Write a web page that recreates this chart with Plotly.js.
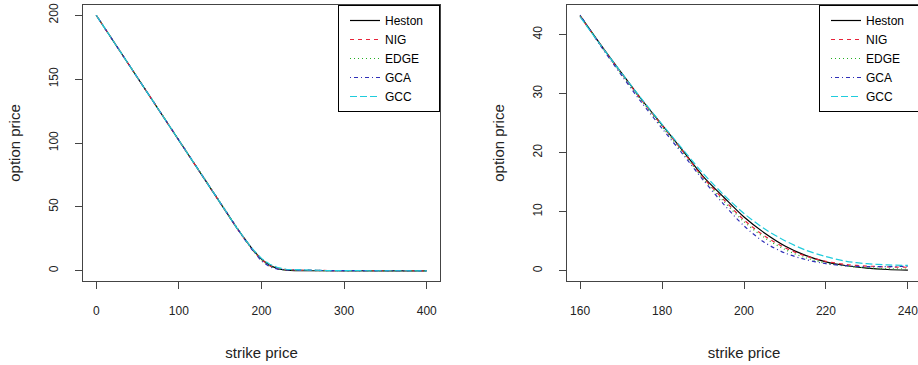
<!DOCTYPE html>
<html>
<head>
<meta charset="utf-8">
<script src="https://cdn.plot.ly/plotly-3.0.1.min.js"></script>
<style>
html,body{margin:0;padding:0;overflow:hidden;background:#fff;}
#chart{width:925px;height:365px;}
</style>
</head>
<body>
<div id="chart"></div>
<script>
// ---- data ----
const seriesNames = ["Heston", "NIG", "EDGE", "GCA", "GCC"];

// left panel: full strike range
const leftStrikes = [0,20,40,60,80,100,120,140,150,160,170,180,190,200,210,220,230,240,260,280,300,320,340,360,380,400];
const leftHeston = [200,180.38,160.76,141.14,121.52,101.9,82.3,62.78,53.0,43.2,33.6,24.7,16.0,9.1,4.2,1.5,0.45,0.12,0.02,0,0,0,0,0,0,0];
const leftNIG    = [200,180.38,160.76,141.14,121.52,101.9,82.3,62.78,53.0,43.1,33.5,24.6,15.8,8.6,3.9,1.6,0.8,0.6,0.3,0.15,0.05,0.02,0,0,0,0];
const leftEDGE   = [200,180.38,160.76,141.14,121.52,101.9,82.3,62.78,53.0,43.2,33.4,24.4,15.6,8.3,3.6,1.3,0.5,0.3,0.1,0.02,0,0,0,0,0,0];
const leftGCA    = [200,180.38,160.76,141.14,121.52,101.9,82.3,62.78,53.0,43.3,33.2,24.1,15.4,7.6,3.0,1.2,0.7,0.75,0.4,0.15,0.05,0.02,0,0,0,0];
const leftGCC    = [200,180.38,160.76,141.14,121.52,101.9,82.3,62.78,53.0,43.0,33.6,24.8,16.5,9.7,5.1,2.4,1.2,0.9,0.4,0.15,0.05,0.02,0,0,0,0];

// right panel: zoom on strikes 160..240
const rightStrikes = [160,165,170,175,180,185,190,195,200,205,210,215,220,225,230,235,240];
const rightHeston = [43.2,38.3,33.6,29.0,24.7,20.4,16.0,12.5,9.1,6.4,4.2,2.6,1.5,0.85,0.45,0.22,0.12];
const rightNIG    = [43.1,38.2,33.5,28.9,24.6,20.3,15.8,12.1,8.6,5.9,3.9,2.5,1.6,1.05,0.8,0.65,0.6];
const rightEDGE   = [43.2,38.2,33.4,28.8,24.4,20.1,15.6,11.8,8.3,5.6,3.6,2.2,1.3,0.8,0.5,0.35,0.3];
const rightGCA    = [43.3,38.1,33.2,28.5,24.1,19.8,15.4,11.3,7.6,4.8,3.0,1.9,1.2,0.85,0.7,0.7,0.75];
const rightGCC    = [43.0,38.2,33.6,29.1,24.8,20.6,16.5,12.9,9.7,7.1,5.1,3.5,2.4,1.6,1.2,1.0,0.9];

const leftTicksX = [0,100,200,300,400];
const leftTicksY = [0,50,100,150,200];
const rightTicksX = [160,180,200,220,240];
const rightTicksY = [0,10,20,30,40];

// ---- styles ----
const colors = ["#000000", "#E8243A", "#22B022", "#3030B8", "#1FCCDC"];
const dashes = ["solid", "4px,4px", "1px,3px", "1px,3px,4px,3px", "7px,3px"];

const W = 925, H = 365;
const leftSets = [leftHeston, leftNIG, leftEDGE, leftGCA, leftGCC];
const rightSets = [rightHeston, rightNIG, rightEDGE, rightGCA, rightGCC];
const pad = "\u00a0\u00a0\u00a0";

const traces = [];
seriesNames.forEach((n, i) => {
  traces.push({
    x: leftStrikes, y: leftSets[i], name: n + pad, type: "scatter", mode: "lines",
    xaxis: "x", yaxis: "y", legend: "legend",
    line: {color: colors[i], width: 1.2, dash: dashes[i]}
  });
});
seriesNames.forEach((n, i) => {
  traces.push({
    x: rightStrikes, y: rightSets[i], name: n + pad, type: "scatter", mode: "lines",
    xaxis: "x2", yaxis: "y2", legend: "legend2",
    line: {color: colors[i], width: 1.2, dash: dashes[i], shape: "spline", smoothing: 0.8}
  });
});

const font = {family: "Liberation Sans, Arial, sans-serif", size: 12, color: "#222"};
const titleFont = {family: "Liberation Sans, Arial, sans-serif", size: 15, color: "#222"};

function xaxis(domain, range, ticks) {
  return {
    domain: domain, range: range, tickvals: ticks, ticktext: ticks.map(String),
    showline: true, mirror: true, linecolor: "#444", linewidth: 1,
    ticks: "outside", ticklen: 7, tickcolor: "#444", tickwidth: 1,
    showgrid: false, zeroline: false, tickfont: font, ticklabelstandoff: 12,
    title: {text: "strike price", font: titleFont, standoff: 30}
  };
}
function yaxis(range, ticks, anchor) {
  return {
    domain: [1 - 281 / H, 1 - 5 / H], range: range, tickvals: ticks, ticktext: ticks.map(String),
    anchor: anchor,
    showline: true, mirror: true, linecolor: "#444", linewidth: 1,
    ticks: "outside", ticklen: 7, tickcolor: "#444", tickwidth: 1,
    showgrid: false, zeroline: false, tickfont: font, tickangle: -90, ticklabelstandoff: 12,
    title: {text: "option price", font: titleFont, standoff: 22}
  };
}

const legendBase = {
  bgcolor: "#ffffff", bordercolor: "#000000", borderwidth: 1,
  font: {family: "Liberation Sans, Arial, sans-serif", size: 12, color: "#000"},
  xanchor: "right", yanchor: "top", itemwidth: 30, tracegroupgap: 0, indentation: 6,
  y: 1 - 5 / H
};

const layout = {
  width: W, height: H,
  margin: {l: 0, r: 0, t: 0, b: 0},
  paper_bgcolor: "#ffffff", plot_bgcolor: "#ffffff",
  showlegend: true,
  xaxis: Object.assign(xaxis([83 / W, 440 / W], [-16, 416], leftTicksX), {anchor: "y"}),
  yaxis: yaxis([-8, 208], leftTicksY, "x"),
  xaxis2: Object.assign(xaxis([567 / W, 921 / W], [156.8, 243.2], rightTicksX), {anchor: "y2"}),
  yaxis2: yaxis([-1.73, 45.0], rightTicksY, "x2"),
  legend: Object.assign({}, legendBase, {x: 440 / W}),
  legend2: Object.assign({}, legendBase, {x: 921 / W})
};

Plotly.newPlot("chart", traces, layout, {displayModeBar: false, staticPlot: true});
</script>
</body>
</html>
